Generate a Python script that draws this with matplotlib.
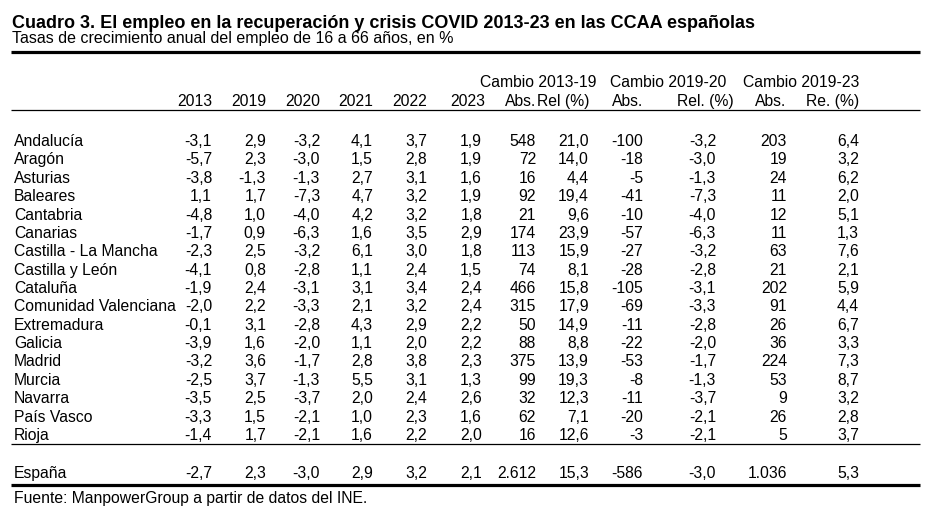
import matplotlib.pyplot as plt

plt.rcParams['font.family'] = ['Liberation Sans', 'DejaVu Sans']

# data
regions = ["Andalucía", "Aragón", "Asturias", "Baleares", "Cantabria", "Canarias",
           "Castilla - La Mancha", "Castilla y León", "Cataluña", "Comunidad Valenciana",
           "Extremadura", "Galicia", "Madrid", "Murcia", "Navarra", "País Vasco", "Rioja"]
y2013 = [-3.1, -5.7, -3.8, 1.1, -4.8, -1.7, -2.3, -4.1, -1.9, -2.0, -0.1, -3.9, -3.2, -2.5, -3.5, -3.3, -1.4]
y2019 = [2.9, 2.3, -1.3, 1.7, 1.0, 0.9, 2.5, 0.8, 2.4, 2.2, 3.1, 1.6, 3.6, 3.7, 2.5, 1.5, 1.7]
y2020 = [-3.2, -3.0, -1.3, -7.3, -4.0, -6.3, -3.2, -2.8, -3.1, -3.3, -2.8, -2.0, -1.7, -1.3, -3.7, -2.1, -2.1]
y2021 = [4.1, 1.5, 2.7, 4.7, 4.2, 1.6, 6.1, 1.1, 3.1, 2.1, 4.3, 1.1, 2.8, 5.5, 2.0, 1.0, 1.6]
y2022 = [3.7, 2.8, 3.1, 3.2, 3.2, 3.5, 3.0, 2.4, 3.4, 3.2, 2.9, 2.0, 3.8, 3.1, 2.4, 2.3, 2.2]
y2023 = [1.9, 1.9, 1.6, 1.9, 1.8, 2.9, 1.8, 1.5, 2.4, 2.4, 2.2, 2.2, 2.3, 1.3, 2.6, 1.6, 2.0]
abs_1319 = [548, 72, 16, 92, 21, 174, 113, 74, 466, 315, 50, 88, 375, 99, 32, 62, 16]
rel_1319 = [21.0, 14.0, 4.4, 19.4, 9.6, 23.9, 15.9, 8.1, 15.8, 17.9, 14.9, 8.8, 13.9, 19.3, 12.3, 7.1, 12.6]
abs_1920 = [-100, -18, -5, -41, -10, -57, -27, -28, -105, -69, -11, -22, -53, -8, -11, -20, -3]
rel_1920 = [-3.2, -3.0, -1.3, -7.3, -4.0, -6.3, -3.2, -2.8, -3.1, -3.3, -2.8, -2.0, -1.7, -1.3, -3.7, -2.1, -2.1]
abs_1923 = [203, 19, 24, 11, 12, 11, 63, 21, 202, 91, 26, 36, 224, 53, 9, 26, 5]
rel_1923 = [6.4, 3.2, 6.2, 2.0, 5.1, 1.3, 7.6, 2.1, 5.9, 4.4, 6.7, 3.3, 7.3, 8.7, 3.2, 2.8, 3.7]
espana = [-2.7, 2.3, -3.0, 2.9, 3.2, 2.1, 2612, 15.3, -586, -3.0, 1036, 5.3]

years = ["2013", "2019", "2020", "2021", "2022", "2023"]
sub_headers = ["Abs.", "Rel (%)", "Abs.", "Rel. (%)", "Abs.", "Re. (%)"]
group_headers = ["Cambio 2013-19", "Cambio 2019-20", "Cambio 2019-23"]

columns = [y2013, y2019, y2020, y2021, y2022, y2023,
           abs_1319, rel_1319, abs_1920, rel_1920, abs_1923, rel_1923]
is_abs = [False] * 6 + [True, False, True, False, True, False]


def fmt(v, absolute):
    # spanish style: dot for thousands, comma for decimals
    if absolute:
        return f"{int(v):,}".replace(",", ".")
    return f"{v:.1f}".replace(".", ",")


# layout (pixels)
col_x = [212, 266, 320, 373, 427, 482, 536, 589, 643, 716, 787, 859]
hdr_x = [212, 266, 320, 373, 427, 485, 536, 589, 643, 734, 786, 859]
grp_x = [597, 726, 859]
fs = 11.3

fig = plt.figure(figsize=(9.4, 5.23), dpi=100)
ax = fig.add_axes([0, 0, 1, 1])
ax.set_xlim(0, 940)
ax.set_ylim(523, 0)
ax.axis('off')

ax.text(12, 28, "Cuadro 3. El empleo en la recuperación y crisis COVID 2013-23 en las CCAA españolas",
        fontsize=13, fontweight='bold', va='baseline')
ax.text(12, 43, "Tasas de crecimiento anual del empleo de 16 a 66 años, en %",
        fontsize=11.55, va='baseline')

ax.plot([11, 920], [51.5, 51.5], color='black', lw=2.3, solid_capstyle='butt')
ax.plot([11, 920], [110, 110], color='black', lw=0.9, solid_capstyle='butt')
ax.plot([11, 920], [444, 444], color='black', lw=0.9, solid_capstyle='butt')
ax.plot([11, 920], [484.5, 484.5], color='black', lw=2.3, solid_capstyle='butt')

for gx, g in zip(grp_x, group_headers):
    ax.text(gx, 87, g, fontsize=fs, ha='right', va='baseline')
for hx, h in zip(hdr_x, years + sub_headers):
    ax.text(hx, 106, h, fontsize=fs, ha='right', va='baseline')

row0, step = 146, 18.375
for i, name in enumerate(regions):
    yb = row0 + i * step
    ax.text(14, yb, name, fontsize=fs, va='baseline')
    for cx, col, a in zip(col_x, columns, is_abs):
        ax.text(cx, yb, fmt(col[i], a), fontsize=fs, ha='right', va='baseline')

ax.text(14, 478, "España", fontsize=fs, va='baseline')
for cx, v, a in zip(col_x, espana, is_abs):
    ax.text(cx, 478, fmt(v, a), fontsize=fs, ha='right', va='baseline')

ax.text(14, 503, "Fuente: ManpowerGroup a partir de datos del INE.", fontsize=fs, va='baseline')

fig.savefig("out.png", dpi=100)
